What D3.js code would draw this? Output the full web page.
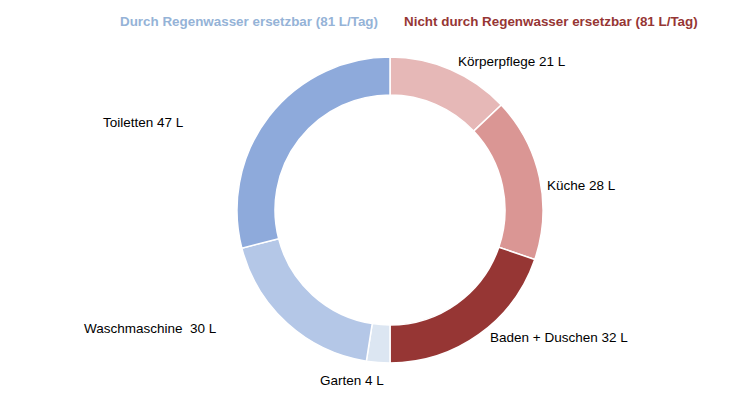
<!DOCTYPE html>
<meta charset="utf-8">
<script src="https://d3js.org/d3.v7.min.js"></script>
<style>
body { margin: 0; background: #fff; }
text { font-family: "Liberation Sans", Arial, sans-serif; }
.lbl { font-size: 13.5px; fill: #000; }
.head { font-size: 13.4px; font-weight: bold; }
</style>
<div id="chart"></div>
<script>
// slices clockwise from 12 o'clock
var names  = ["Körperpflege", "Küche", "Baden + Duschen", "Garten", "Waschmaschine ", "Toiletten"];
var liters = [21, 28, 32, 4, 30, 47];
var colors = ["#e6b8b7", "#da9694", "#963634", "#dce6f2", "#b4c7e7", "#8eaadb"];
// label anchor points (text start x, middle y)
var labelPos = [[458, 61], [547, 185], [490, 337], [320, 380], [84, 328], [103, 122]];

var headers = ["Durch Regenwasser ersetzbar (81 L/Tag)", "Nicht durch Regenwasser ersetzbar (81 L/Tag)"];
var headerColors = ["#95b3d7", "#963634"];

var width = 750, height = 394;
var cx = 390, cy = 210, rOuter = 153, rInner = 115;

var svg = d3.select("#chart").append("svg")
    .attr("width", width)
    .attr("height", height);

var data = names.map(function(n, i) { return {name: n, value: liters[i], color: colors[i], pos: labelPos[i]}; });

var pie = d3.pie().sort(null).value(function(d) { return d.value; });
var arc = d3.arc().innerRadius(rInner).outerRadius(rOuter);

var g = svg.append("g").attr("transform", "translate(" + cx + "," + cy + ")");
g.selectAll("path")
  .data(pie(data))
  .enter()
  .append("path")
    .attr("d", arc)
    .attr("fill", function(d) { return d.data.color; })
    .attr("stroke", "#fff")
    .attr("stroke-width", 1.5);

svg.selectAll(".lbl")
  .data(data)
  .enter()
  .append("text")
    .attr("class", "lbl")
    .attr("x", function(d) { return d.pos[0]; })
    .attr("y", function(d) { return d.pos[1]; })
    .attr("dy", "0.35em")
    .style("white-space", "pre")
    .text(function(d) { return d.name + " " + d.value + " L"; });

svg.selectAll(".head")
  .data(headers)
  .enter()
  .append("text")
    .attr("class", "head")
    .attr("x", function(d, i) { return i === 0 ? 120 : 404; })
    .attr("y", 21)
    .attr("dy", "0.35em")
    .attr("fill", function(d, i) { return headerColors[i]; })
    .text(function(d) { return d; });
</script>
